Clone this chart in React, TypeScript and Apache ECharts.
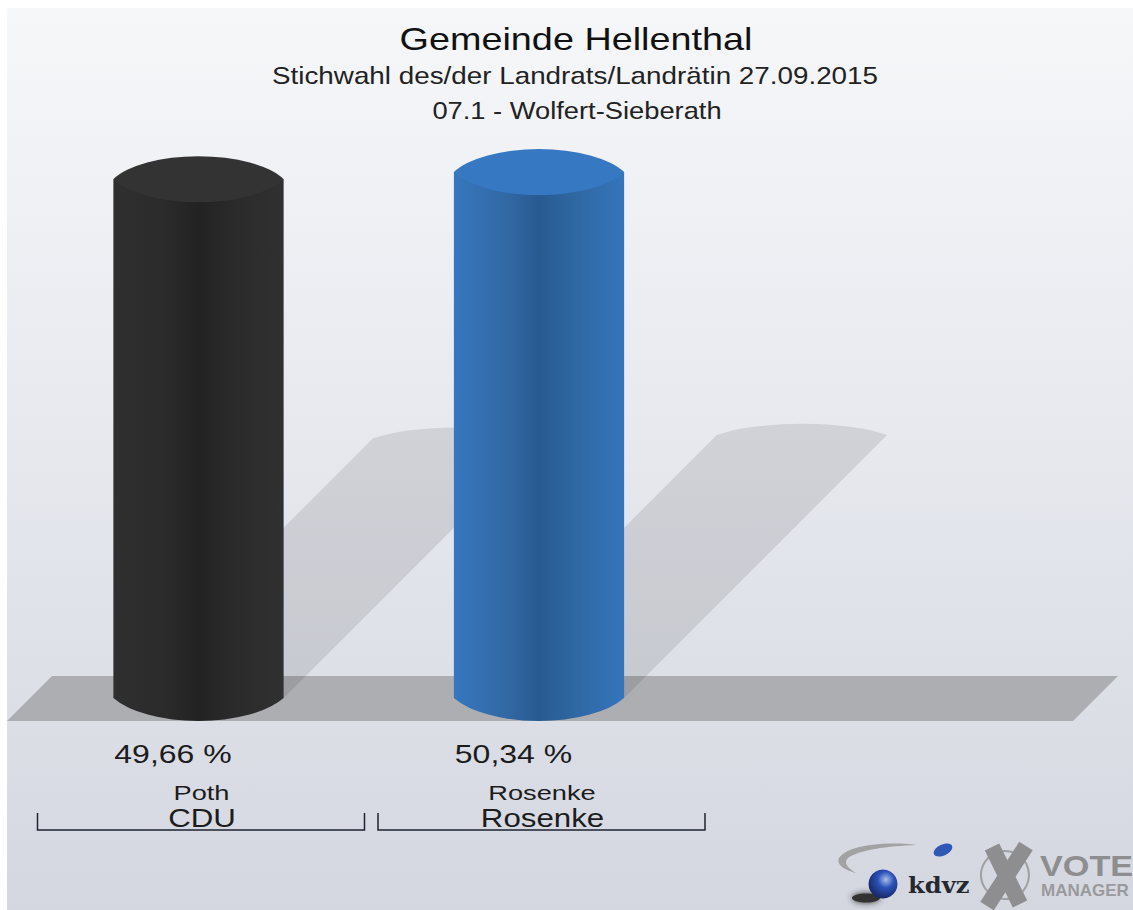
import React, { useEffect, useRef } from "react";
import * as echarts from "echarts";

const titleLines = [
  "Gemeinde Hellenthal",
  "Stichwahl des/der Landrats/Landrätin 27.09.2015",
  "07.1 - Wolfert-Sieberath",
];
const candidates = ["Poth", "Rosenke"];
const parties = ["CDU", "Rosenke"];
const shares = [49.66, 50.34];
const sideColors = [
  ["#2f2f2f", "#2b2b2b", "#222222", "#2b2b2b", "#303030"],
  ["#3677bf", "#3269a5", "#285a90", "#2f68a3", "#3575bc"],
];
const topColors = ["#333333", "#3778c3"];

const FONT = '"Liberation Sans", Arial, sans-serif';

echarts.graphic.registerShape(
  "swoosh",
  echarts.graphic.extendPath(
    "M917 845 C885 841 848 845 839 858 C836 865 845 870 856 873 C848 868 843 863 848 858 C858 850 888 846 917 845 Z",
    {}
  )
);

function cylinderGeom(api: any) {
  const idx = api.value(0);
  const val = api.value(1);
  const top = api.coord([idx, val]);
  const base = api.coord([idx, 0]);
  const band = api.size([1, 0])[0];
  const rx = band * 0.25;
  return { cx: base[0], topY: top[1], baseY: base[1], rx, height: base[1] - top[1], idx };
}

function renderShadow(_: any, api: any) {
  const g = cylinderGeom(api);
  const l = g.cx - g.rx;
  const r = g.cx + g.rx;
  const d = g.height / 2;
  const y = g.baseY - d;
  return {
    type: "path",
    shape: {
      pathData: `M${l} ${g.baseY} L${l + d} ${y} A${g.rx * 1.25} 28 0 0 1 ${r + d} ${y} L${r} ${g.baseY} Z`,
    },
    style: { fill: "rgba(20,20,20,0.105)" },
  };
}

function stretchedText(text: string, x: number, y: number, size: number, scaleX: number) {
  return {
    type: "text",
    x,
    y,
    scaleX,
    style: {
      x: 0,
      y: 0,
      text,
      fill: "#1c1c1c",
      font: `${size}px ${FONT}`,
      align: "center",
      verticalAlign: "middle",
    },
  };
}

function renderCylinder(_: any, api: any) {
  const g = cylinderGeom(api);
  const l = g.cx - g.rx;
  const r = g.cx + g.rx;
  const cols = sideColors[g.idx];
  const stops = [0, 0.3, 0.5, 0.72, 1].map((offset, i) => ({ offset, color: cols[i] }));
  const label = shares[g.idx].toFixed(2).replace(".", ",") + " %";
  const bx = g.cx + 2.5;
  const by = 813;
  const axTop = g.rx * 1.08;
  const axBase = g.rx * 1.12;
  return {
    type: "group",
    children: [
      {
        type: "path",
        shape: {
          pathData: `M${l} ${g.topY} L${l} ${g.baseY} A${axBase} 42 0 0 0 ${r} ${g.baseY} L${r} ${g.topY} Z`,
        },
        style: { fill: new echarts.graphic.LinearGradient(0, 0, 1, 0, stops) },
      },
      {
        type: "path",
        shape: {
          pathData: `M${l} ${g.topY} A${axTop} 37 0 0 1 ${r} ${g.topY} A${axTop} 37 0 0 1 ${l} ${g.topY} Z`,
        },
        style: { fill: topColors[g.idx] },
      },
      stretchedText(label, g.cx - 25.5, g.baseY + 56, 25, 1.28),
      stretchedText(candidates[g.idx], g.cx + 3, g.baseY + 95, 20, 1.36),
      stretchedText(parties[g.idx], g.cx + 3.5, g.baseY + 120, 25, 1.25),
      {
        type: "polyline",
        z2: -1,
        shape: {
          points: [
            [bx - 163.5, by],
            [bx - 163.5, by + 17],
            [bx + 163.5, by + 17],
            [bx + 163.5, by],
          ],
        },
        style: { fill: "none", stroke: "#1e2430", lineWidth: 1.5 },
      },
    ],
  };
}

function headline(text: string, cx: number, y: number, size: number, scaleX: number, color: string) {
  return {
    type: "text",
    z: 5,
    x: cx,
    y,
    scaleX,
    style: { x: 0, y: 0, text, fill: color, font: `${size}px ${FONT}`, align: "center", verticalAlign: "middle" },
  };
}

export default function App() {
  const ref = useRef<HTMLDivElement>(null);
  useEffect(() => {
    const chart = echarts.init(ref.current!, null, { renderer: "svg" });
    const seriesData = shares.map((v, i) => [i, v]);
    chart.setOption({
      animation: false,
      backgroundColor: "#ffffff",
      grid: { left: 28.25, width: 681, top: 71.2, height: 626.8 },
      xAxis: {
        type: "category",
        data: candidates,
        axisLine: { show: false },
        axisTick: { show: false },
        splitLine: { show: false },
        axisLabel: { show: false },
      },
      yAxis: { type: "value", min: 0, max: 60, show: false },
      graphic: [
        {
          type: "rect",
          z: -10,
          shape: { x: 7, y: 8, width: 1126, height: 902 },
          style: {
            fill: new echarts.graphic.LinearGradient(0, 0, 0, 1, [
              { offset: 0, color: "#f6f7f9" },
              { offset: 0.5, color: "#e6e8ee" },
              { offset: 1, color: "#d4d7e0" },
            ]),
          },
        },
        {
          type: "polygon",
          z: -5,
          shape: { points: [[7, 721], [52, 676], [1118, 676], [1073, 721]] },
          style: { fill: "#adaeb1" },
        },
        headline(titleLines[0], 576, 39, 32, 1.181, "#111111"),
        headline(titleLines[1], 575, 76, 24, 1.159, "#222222"),
        headline(titleLines[2], 577, 111, 24, 1.138, "#222222"),
        // kdvz logo
        { type: "swoosh", z: 1, style: { fill: "#a2a2a4" } },
        {
          type: "ellipse",
          z: 1,
          shape: { cx: 866, cy: 898, rx: 14, ry: 4.5 },
          style: { fill: "#333", shadowBlur: 6, shadowColor: "#333" },
        },
        {
          type: "circle",
          z: 2,
          shape: { cx: 883, cy: 884, r: 14.5 },
          style: {
            fill: new echarts.graphic.RadialGradient(0.6, 0.35, 0.7, [
              { offset: 0, color: "#a9bfe8" },
              { offset: 0.4, color: "#2b52b8" },
              { offset: 1, color: "#14245e" },
            ]),
          },
        },
        {
          type: "ellipse",
          z: 2,
          x: 943,
          y: 850,
          rotation: 0.45,
          shape: { cx: 0, cy: 0, rx: 10, ry: 5.5 },
          style: { fill: "#2f57b5" },
        },
        {
          type: "text",
          z: 2,
          x: 908,
          y: 885,
          scaleX: 1.1,
          style: { x: 0, y: 0, text: "kdvz", fill: "#26282e", font: `bold 22px "DejaVu Serif", serif`, align: "left", verticalAlign: "middle" },
        },
        // Vote Manager logo
        {
          type: "circle",
          z: 2,
          shape: { cx: 1005, cy: 875, r: 24 },
          style: { fill: "none", stroke: "#a0a0a2", lineWidth: 2 },
        },
        {
          type: "line",
          z: 3,
          shape: { x1: 992, y1: 847, x2: 1020, y2: 904 },
          style: { stroke: "#8e8e90", lineWidth: 16 },
        },
        {
          type: "line",
          z: 3,
          shape: { x1: 1026, y1: 846, x2: 987, y2: 906 },
          style: { stroke: "#8e8e90", lineWidth: 16 },
        },
        {
          type: "text",
          z: 3,
          x: 1040,
          y: 866,
          scaleX: 1.18,
          style: { x: 0, y: 0, text: "VOTE", fill: "#8e8e90", font: `bold 29px ${FONT}`, align: "left", verticalAlign: "middle" },
        },
        {
          type: "text",
          z: 3,
          x: 1041,
          y: 890,
          style: { x: 0, y: 0, text: "MANAGER", fill: "#9a9a9c", font: `bold 17px ${FONT}`, align: "left", verticalAlign: "middle" },
        },
      ],
      series: [
        { type: "custom", z: 2, silent: true, renderItem: renderShadow, data: seriesData, clip: false },
        { type: "custom", z: 3, silent: true, renderItem: renderCylinder, data: seriesData, clip: false },
      ],
    });
    return () => chart.dispose();
  }, []);
  return (
    <div
      ref={ref}
      style={{ position: "absolute", left: 0, top: 0, width: 1133, height: 910, overflow: "hidden" }}
    />
  );
}
